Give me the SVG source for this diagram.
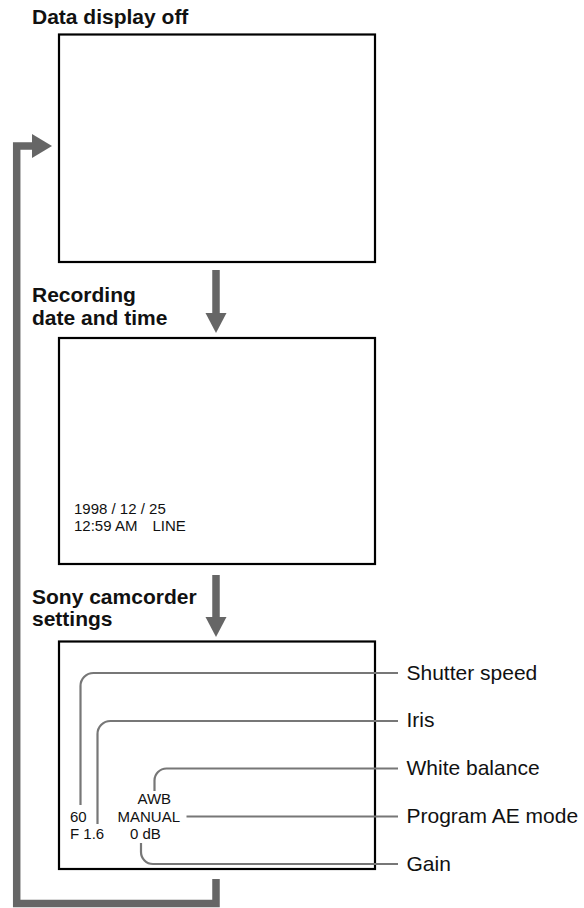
<svg xmlns="http://www.w3.org/2000/svg" width="584" height="908" viewBox="0 0 584 908">
<style>
.title{font-family:"Liberation Sans",Arial,sans-serif;font-weight:bold;font-size:21px;fill:#111}
.lbl{font-family:"Liberation Sans",Arial,sans-serif;font-size:21px;fill:#111}
.osd{font-family:"Liberation Sans",Arial,sans-serif;font-size:15px;fill:#111}
.screen{fill:#fff;stroke:#000;stroke-width:2.2}
.flow{fill:none;stroke:#666;stroke-width:7.5}
.head{fill:#666}
.lead{fill:none;stroke:#777;stroke-width:2.2}
</style>
<rect width="584" height="908" fill="#fff"/>
<g id="node-off">
<text class="title" x="32" y="24">Data display off</text>
<rect class="screen" x="59" y="34.5" width="316" height="227.5"/>
</g>
<g id="node-date">
<text class="title" x="32" y="302">Recording</text>
<text class="title" x="32" y="325">date and time</text>
<rect class="screen" x="59" y="338" width="316" height="226"/>
<text class="osd" x="74" y="514">1998 / 12 / 25</text>
<text class="osd" x="74" y="531">12:59 AM</text>
<text class="osd" x="152.5" y="531">LINE</text>
</g>
<g id="node-settings">
<text class="title" x="32" y="604">Sony camcorder</text>
<text class="title" x="32" y="626">settings</text>
<rect class="screen" x="59" y="641.5" width="316" height="227.5"/>
<text class="osd" x="70" y="822">60</text>
<text class="osd" x="70" y="838.5">F 1.6</text>
<text class="osd" x="137.5" y="803.5">AWB</text>
<text class="osd" x="117.5" y="822">MANUAL</text>
<text class="osd" x="130" y="838.5">0 dB</text>
</g>
<g id="labels">
<text class="lbl" x="406.5" y="679.5">Shutter speed</text>
<text class="lbl" x="406.5" y="727">Iris</text>
<text class="lbl" x="406.5" y="775">White balance</text>
<text class="lbl" x="406.5" y="823">Program AE mode</text>
<text class="lbl" x="406.5" y="870.5">Gain</text>
</g>
<g id="connectors">
<path class="flow" d="M216,270 V314"/>
<polygon class="head" points="205.5,313 226.5,313 216,333"/>
<path class="flow" d="M216,575 V618"/>
<polygon class="head" points="205.5,617 226.5,617 216,637"/>
<path class="flow" d="M216,879 V903.5 H16.7 V146 H33"/>
<polygon class="head" points="32,134 52,146 32,158"/>
<path class="lead" d="M80.5,805 V686 A13,13 0 0 1 93.5,673 H398"/>
<path class="lead" d="M97.5,824 V734 A13,13 0 0 1 110.5,721 H398"/>
<path class="lead" d="M154.5,791 V780.5 A12,12 0 0 1 166.5,768.5 H398"/>
<path class="lead" d="M186.5,816.5 H398"/>
<path class="lead" d="M141,843 V852 A12,12 0 0 0 153,864 H398"/>
</g>
</svg>
